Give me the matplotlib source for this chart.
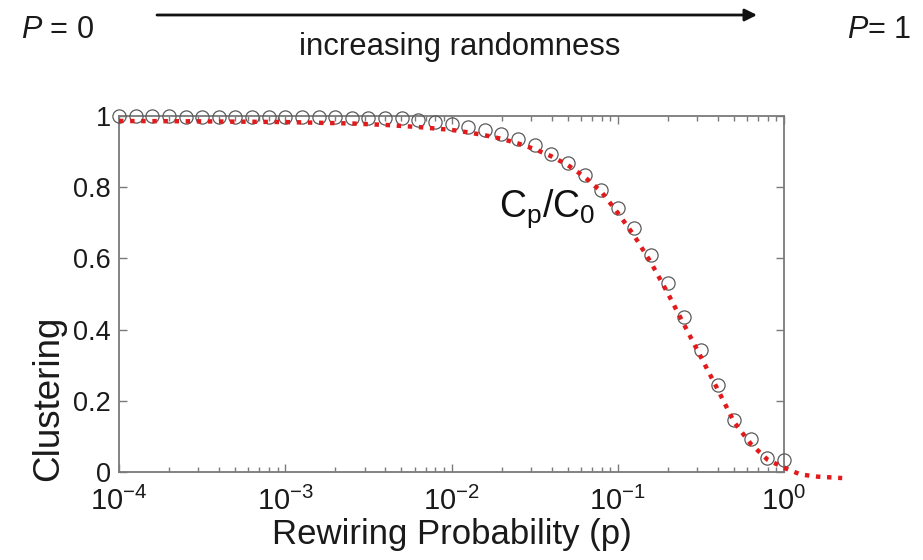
import numpy as np
import matplotlib
matplotlib.use("Agg")
import matplotlib.pyplot as plt
from matplotlib.ticker import FixedLocator, LogLocator, NullFormatter

plt.rcParams['font.family'] = ['Liberation Sans', 'DejaVu Sans']
plt.rcParams['mathtext.fontset'] = 'custom'
plt.rcParams['mathtext.rm'] = 'Liberation Sans'
plt.rcParams['mathtext.it'] = 'Liberation Sans:italic'

# ---- data ----
log_p = [-4.0, -3.9, -3.8, -3.7, -3.6, -3.5, -3.4, -3.3, -3.2, -3.1,
         -3.0, -2.9, -2.8, -2.7, -2.6, -2.5, -2.4, -2.3, -2.2, -2.1,
         -2.0, -1.9, -1.8, -1.7, -1.6, -1.5, -1.4, -1.3, -1.2, -1.1,
         -1.0, -0.9, -0.8, -0.7, -0.6, -0.5, -0.4, -0.3, -0.2, -0.1, 0.0]
clustering = [1.000, 0.999, 0.999, 0.999, 0.998, 0.998, 0.998, 0.998, 0.997, 0.997,
              0.997, 0.997, 0.997, 0.996, 0.995, 0.994, 0.994, 0.993, 0.989, 0.983,
              0.978, 0.970, 0.961, 0.949, 0.935, 0.919, 0.893, 0.868, 0.834, 0.792,
              0.742, 0.685, 0.610, 0.531, 0.435, 0.343, 0.244, 0.146, 0.093, 0.039, 0.034]

fit_log_p = [-4.0, -3.5, -3.0, -2.6, -2.4, -2.2, -2.0, -1.9, -1.8, -1.7,
             -1.6, -1.5, -1.4, -1.3, -1.2, -1.1, -1.0, -0.9, -0.8, -0.7,
             -0.6, -0.5, -0.4, -0.3, -0.2, -0.1, 0.0, 0.1, 0.2, 0.35]
fit_clustering = [0.986, 0.985, 0.983, 0.979, 0.975, 0.969, 0.961, 0.954, 0.946, 0.936,
                  0.923, 0.907, 0.887, 0.862, 0.829, 0.788, 0.728, 0.663, 0.588, 0.503,
                  0.413, 0.323, 0.233, 0.140, 0.079, 0.035, 0.012, -0.007, -0.013, -0.017]

y_ticks = [0, 0.2, 0.4, 0.6, 0.8, 1]
y_tick_labels = ["0", "0.2", "0.4", "0.6", "0.8", "1"]
x_ticks = [1e-4, 1e-3, 1e-2, 1e-1, 1e0]
x_tick_labels = [r"$\mathregular{10^{-4}}$", r"$\mathregular{10^{-3}}$",
                 r"$\mathregular{10^{-2}}$", r"$\mathregular{10^{-1}}$",
                 r"$\mathregular{10^{0}}$"]

p = 10 ** np.array(log_p)
fit_p = 10 ** np.array(fit_log_p)

fig = plt.figure(figsize=(9.23, 5.60), dpi=100)
ax = fig.add_axes([119/923, 1-472/560, (784-119)/923, (472-116)/560])

ax.plot(p, clustering, linestyle='none', marker='o', markersize=9.5,
        markerfacecolor='none', markeredgecolor='#5a5a5a', markeredgewidth=0.9,
        clip_on=False, zorder=3)
ax.plot(fit_p, fit_clustering, color='#e31a1c', linewidth=3.2,
        dashes=(1.0, 1.5), dash_capstyle='butt', clip_on=False, zorder=4)

ax.set_xscale('log')
ax.set_xlim(1e-4, 1e0)
ax.set_ylim(0, 1)
ax.xaxis.set_major_locator(FixedLocator(x_ticks))
ax.set_xticklabels(x_tick_labels)
ax.xaxis.set_minor_locator(LogLocator(base=10, subs=np.arange(2, 10)))
ax.xaxis.set_minor_formatter(NullFormatter())
ax.set_yticks(y_ticks)
ax.set_yticklabels(y_tick_labels)

for s in ax.spines.values():
    s.set_color('#7a7a7a')
    s.set_linewidth(1.3)
ax.tick_params(which='both', direction='in', top=True, right=True,
               colors='#7a7a7a', labelcolor='#1a1a1a', width=1.0)
ax.tick_params(which='major', length=6)
ax.tick_params(which='minor', length=3.5)
ax.tick_params(axis='y', which='major', pad=6, labelsize=19.5)
ax.tick_params(axis='x', which='major', pad=11, labelsize=21)

ax.set_xlabel("Rewiring Probability (p)", fontsize=25, color='#1a1a1a')
ax.xaxis.set_label_coords(0.5, -0.128)
ax.set_ylabel("Clustering", fontsize=26.5, color='#1a1a1a')
ax.yaxis.set_label_coords(-0.08, 0.208)

ax.text(0.572, 0.74, r"$\mathregular{C_p/C_0}$", transform=ax.transAxes,
        fontsize=27, color='#111111', ha='left', va='center')

# top annotation
fig.text(21/923, 1-30/560, r"$P$ = 0", fontsize=22, color='#1a1a1a', ha='left', va='center')
fig.text(911/923, 1-30/560, r"$P$= 1", fontsize=22, color='#1a1a1a', ha='right', va='center')
fig.text(460/923, 1-47/560, "increasing randomness", fontsize=22.3, color='#1a1a1a',
         ha='center', va='center')
ax.annotate("", xy=(757/923, 1-15/560), xytext=(157/923, 1-15/560),
            xycoords='figure fraction', textcoords='figure fraction',
            arrowprops=dict(arrowstyle='-|>', color='#111111', lw=2,
                            mutation_scale=18, shrinkA=0, shrinkB=0))

fig.savefig("out.png", dpi=100, facecolor='white')
